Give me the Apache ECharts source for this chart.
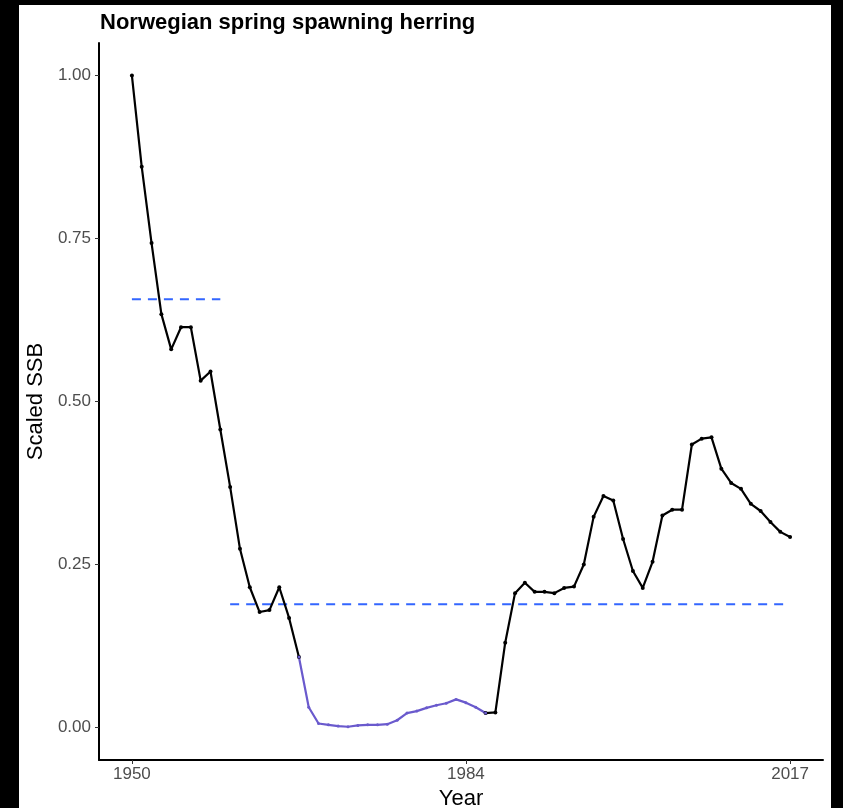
<!DOCTYPE html>
<html>
<head>
<meta charset="utf-8">
<script src="https://cdn.jsdelivr.net/npm/echarts@6/dist/echarts.min.js"></script>
<style>
  html, body { margin: 0; padding: 0; background: #000; }
  #chart { position: absolute; left: 19px; top: 5px; width: 812px; height: 803px; background: #fff; }
</style>
</head>
<body>
<div id="chart"></div>
<script>
// years and scaled SSB
var years = [];
for (var y = 1950; y <= 2017; y++) years.push(y);

var ssb = [
  1.00, 0.86, 0.743, 0.634, 0.58, 0.614, 0.614, 0.532, 0.546, 0.457,   // 1950-59
  0.369, 0.274, 0.215, 0.177, 0.18, 0.215, 0.168, 0.108, 0.031, 0.006, // 1960-69
  0.004, 0.002, 0.001, 0.003, 0.004, 0.004, 0.005, 0.011, 0.022, 0.025, // 1970-79
  0.03, 0.034, 0.037, 0.043, 0.038, 0.031, 0.022, 0.023, 0.13, 0.206,   // 1980-89
  0.222, 0.208, 0.208, 0.206, 0.214, 0.216, 0.25, 0.323, 0.355, 0.348,  // 1990-99
  0.289, 0.24, 0.214, 0.254, 0.325, 0.334, 0.334, 0.434, 0.443, 0.445,  // 2000-09
  0.397, 0.375, 0.366, 0.343, 0.332, 0.315, 0.30, 0.292                 // 2010-17
];

// collapsed period drawn in blue
var collapseStart = 1967;
var collapseEnd = 1986;

// period means (dashed lines)
var meanEarly = { from: 1950, to: 1959, value: 0.657 };
var meanLate = { from: 1960, to: 2017, value: 0.189 };

var xTicks = [1950, 1984, 2017];
var yTicks = [0, 0.25, 0.5, 0.75, 1];

var blackData = [], blueData = [];
years.forEach(function (yr, i) {
  var inCollapse = yr >= collapseStart && yr <= collapseEnd;
  var blackHere = !(yr > collapseStart && yr < collapseEnd);
  blackData.push([yr, blackHere ? ssb[i] : null]);
  blueData.push([yr, inCollapse ? ssb[i] : null]);
});

var chart = echarts.init(document.getElementById('chart'));
var font = 'Liberation Sans, Arial, sans-serif';

chart.setOption({
  animation: false,
  title: {
    text: 'Norwegian spring spawning herring',
    left: 76, top: 2,
    textStyle: { fontFamily: font, fontWeight: 'bold', fontSize: 22, color: '#000' }
  },
  grid: { left: 80, right: 8, top: 38, bottom: 48, containLabel: false, outerBoundsMode: 'none' },
  xAxis: {
    type: 'value',
    min: 1946.65, max: 2020.35,
    name: 'Year', nameLocation: 'middle', nameGap: 25,
    nameTextStyle: { fontFamily: font, fontSize: 22, color: '#000' },
    axisLine: { onZero: false, lineStyle: { color: '#000', width: 2 } },
    axisTick: { show: true, length: 4, lineStyle: { color: '#333' }, customValues: xTicks },
    axisLabel: {
      fontFamily: font, fontSize: 17, color: '#4d4d4d', margin: 6, customValues: xTicks,
      formatter: function (v) { return String(v); }
    },
    splitLine: { show: false }
  },
  yAxis: {
    type: 'value',
    min: -0.05, max: 1.05,
    name: 'Scaled SSB', nameLocation: 'middle', nameGap: 52,
    nameTextStyle: { fontFamily: font, fontSize: 22, color: '#000' },
    axisLine: { show: true, lineStyle: { color: '#000', width: 2 } },
    axisTick: { show: true, length: 4, lineStyle: { color: '#333' }, customValues: yTicks },
    axisLabel: {
      fontFamily: font, fontSize: 17, color: '#4d4d4d', margin: 8, customValues: yTicks,
      formatter: function (v) { return v.toFixed(2); }
    },
    splitLine: { show: false }
  },
  series: [
    {
      type: 'line',
      data: [[meanEarly.from, meanEarly.value], [meanEarly.to, meanEarly.value]],
      showSymbol: false,
      lineStyle: { color: '#3366ff', width: 2, type: [9, 7] },
      silent: true
    },
    {
      type: 'line',
      data: [[meanLate.from, meanLate.value], [meanLate.to, meanLate.value]],
      showSymbol: false,
      lineStyle: { color: '#3366ff', width: 2, type: [9, 7] },
      silent: true
    },
    {
      type: 'line',
      data: blackData,
      connectNulls: false,
      symbol: 'circle', symbolSize: 4,
      itemStyle: { color: '#000' },
      lineStyle: { color: '#000', width: 2.2 }
    },
    {
      type: 'line',
      data: blueData,
      connectNulls: false,
      symbol: 'circle', symbolSize: 3,
      itemStyle: { color: '#6a5acd' },
      lineStyle: { color: '#6a5acd', width: 2.2 }
    }
  ]
});
</script>
</body>
</html>
